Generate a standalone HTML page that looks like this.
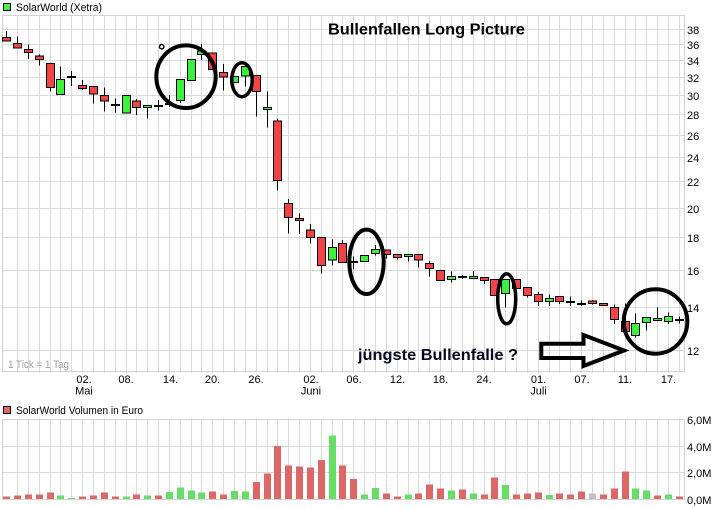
<!DOCTYPE html>
<html><head><meta charset="utf-8"><style>
html,body{margin:0;padding:0;background:#fff;width:726px;height:508px;overflow:hidden}
svg{display:block}
text{font-family:"Liberation Sans",sans-serif}
</style></head><body>
<svg width="726" height="508" viewBox="0 0 726 508" xmlns="http://www.w3.org/2000/svg">
<rect width="726" height="508" fill="#fff"/>
<g stroke="#dadada" stroke-width="1" fill="none" shape-rendering="crispEdges">
<path d="M17.5 15V373M28.5 15V373M39.5 15V373M50.5 15V373M60.5 15V373M71.5 15V373M82.5 15V373M93.5 15V373M104.5 15V373M115.5 15V373M126.5 15V373M136.5 15V373M147.5 15V373M158.5 15V373M169.5 15V373M180.5 15V373M191.5 15V373M201.5 15V373M212.5 15V373M223.5 15V373M234.5 15V373M245.5 15V373M256.5 15V373M267.5 15V373M277.5 15V373M288.5 15V373M299.5 15V373M310.5 15V373M321.5 15V373M332.5 15V373M342.5 15V373M353.5 15V373M364.5 15V373M375.5 15V373M386.5 15V373M397.5 15V373M408.5 15V373M418.5 15V373M429.5 15V373M440.5 15V373M451.5 15V373M462.5 15V373M473.5 15V373M484.5 15V373M494.5 15V373M505.5 15V373M516.5 15V373M527.5 15V373M538.5 15V373M549.5 15V373M559.5 15V373M570.5 15V373M581.5 15V373M592.5 15V373M603.5 15V373M614.5 15V373M625.5 15V373M635.5 15V373M646.5 15V373M657.5 15V373M668.5 15V373M679.5 15V373"/>
<path d="M2 29.5H685M2 44.5H685M2 60.5H685M2 77.5H685M2 95.5H685M2 114.5H685M2 135.5H685M2 157.5H685M2 181.5H685M2 208.5H685M2 237.5H685M2 270.5H685M2 307.5H685M2 350.5H685"/>
<rect x="2.5" y="15.5" width="682" height="356" stroke="#d2d2d2"/>
</g>
<g stroke="#dadada" stroke-width="1" fill="none" shape-rendering="crispEdges">
<path d="M17.5 419V499M28.5 419V499M39.5 419V499M50.5 419V499M60.5 419V499M71.5 419V499M82.5 419V499M93.5 419V499M104.5 419V499M115.5 419V499M126.5 419V499M136.5 419V499M147.5 419V499M158.5 419V499M169.5 419V499M180.5 419V499M191.5 419V499M201.5 419V499M212.5 419V499M223.5 419V499M234.5 419V499M245.5 419V499M256.5 419V499M267.5 419V499M277.5 419V499M288.5 419V499M299.5 419V499M310.5 419V499M321.5 419V499M332.5 419V499M342.5 419V499M353.5 419V499M364.5 419V499M375.5 419V499M386.5 419V499M397.5 419V499M408.5 419V499M418.5 419V499M429.5 419V499M440.5 419V499M451.5 419V499M462.5 419V499M473.5 419V499M484.5 419V499M494.5 419V499M505.5 419V499M516.5 419V499M527.5 419V499M538.5 419V499M549.5 419V499M559.5 419V499M570.5 419V499M581.5 419V499M592.5 419V499M603.5 419V499M614.5 419V499M625.5 419V499M635.5 419V499M646.5 419V499M657.5 419V499M668.5 419V499M679.5 419V499"/>
<path d="M2 446.5H685M2 472.5H685"/>
<rect x="2.5" y="419.5" width="682" height="80" stroke="#d2d2d2"/>
</g>
<g stroke="#000" stroke-width="1" fill="none" shape-rendering="crispEdges">
<path d="M6.5 31V41M17.5 36.5V48M28.5 44.5V59M39.5 54.5V65.5M50.5 63.5V91.5M60.5 66.5V94.5M71.5 71V86M82.5 80V90M93.5 86.5V103.5M104.5 87.5V111.5M115.5 98.5V112.5M136.5 99V115M147.5 105.5V118.5M158.5 100V110.5M169.5 95V107M180.5 79.5V103M201.5 44V60M223.5 64V90.5M245.5 66.5V86.5M256.5 75.5V116.5M267.5 91.5V127.5M277.5 118.5V190.5M288.5 199V233.5M299.5 213.5V234M310.5 224V243.5M321.5 237.5V273.5M332.5 239.5V265.5M342.5 240V262.5M353.5 256.5V269.5M375.5 245V255.5M386.5 250V258.5M397.5 254.5V259.5M408.5 254.5V261.5M418.5 254.5V267.5M429.5 261V276.5M451.5 271.5V282.5M462.5 275V279M473.5 271V279M484.5 277.5V284M505.5 279.5V307.5M527.5 287.5V297.5M538.5 292V306M549.5 294.5V306M559.5 296.5V304M570.5 296.5V306M581.5 300.5V306M592.5 300V304.5M614.5 304.5V324M625.5 303.5V331.5M635.5 313.5V337.5M646.5 317.5V330.5M657.5 307.5V320.5M668.5 312.5V324M679.5 316.5V323.5"/>
</g>
<g stroke="#000" stroke-width="2" fill="none" shape-rendering="crispEdges">
<path d="M67 77H76M111 105H120M154 106H163M165 104H174M349 262H358M458 277H467M566 302H575M577 304H586M675 320H684"/>
</g>
<g fill="#f24444" stroke="#000" stroke-width="1" shape-rendering="crispEdges">
<rect x="2.5" y="37.5" width="8" height="3.5"/>
<rect x="13.5" y="43.5" width="8" height="4.5"/>
<rect x="24.5" y="49.5" width="8" height="3"/>
<rect x="35.5" y="56" width="8" height="3.5"/>
<rect x="46.5" y="63.5" width="8" height="24"/>
<rect x="78.5" y="85.5" width="8" height="3"/>
<rect x="89.5" y="86.5" width="8" height="7.5"/>
<rect x="100.5" y="95.5" width="8" height="5.5"/>
<rect x="132.5" y="101" width="8" height="6.5"/>
<rect x="208.5" y="53" width="8" height="16.5"/>
<rect x="219.5" y="72.5" width="8" height="4.5"/>
<rect x="252.5" y="75.5" width="8" height="16"/>
<rect x="273.5" y="121" width="8" height="59.5"/>
<rect x="284.5" y="203.5" width="8" height="14"/>
<rect x="295.5" y="218.5" width="8" height="2"/>
<rect x="306.5" y="230" width="8" height="7.5"/>
<rect x="317.5" y="237.5" width="8" height="28"/>
<rect x="338.5" y="243.5" width="8" height="19"/>
<rect x="382.5" y="250" width="8" height="4.5"/>
<rect x="393.5" y="254.5" width="8" height="3"/>
<rect x="414.5" y="254.5" width="8" height="5.5"/>
<rect x="425.5" y="263.5" width="8" height="5"/>
<rect x="436.5" y="270.5" width="8" height="10"/>
<rect x="480.5" y="277.5" width="8" height="3"/>
<rect x="490.5" y="279.5" width="8" height="16"/>
<rect x="512.5" y="279.5" width="8" height="9"/>
<rect x="523.5" y="287.5" width="8" height="8"/>
<rect x="534.5" y="294.5" width="8" height="7"/>
<rect x="555.5" y="296.5" width="8" height="5"/>
<rect x="588.5" y="301" width="8" height="2.5"/>
<rect x="599.5" y="303.5" width="8" height="2"/>
<rect x="610.5" y="307.5" width="8" height="12"/>
<rect x="621.5" y="321.5" width="8" height="10"/>
</g>
<g fill="#3ef03e" stroke="#000" stroke-width="1" shape-rendering="crispEdges">
<rect x="56.5" y="79.5" width="8" height="15"/>
<rect x="122.5" y="95.5" width="8" height="17.5"/>
<rect x="143.5" y="105.5" width="8" height="2"/>
<rect x="176.5" y="79.5" width="8" height="21"/>
<rect x="187.5" y="59.5" width="8" height="21"/>
<rect x="197.5" y="51" width="8" height="3.5"/>
<rect x="230.5" y="76.5" width="8" height="6"/>
<rect x="241.5" y="66.5" width="8" height="9.5"/>
<rect x="263.5" y="107.5" width="8" height="2"/>
<rect x="328.5" y="247.5" width="8" height="12.5"/>
<rect x="360.5" y="255.5" width="8" height="6"/>
<rect x="371.5" y="249.5" width="8" height="4"/>
<rect x="404.5" y="254.5" width="8" height="2"/>
<rect x="447.5" y="276.5" width="8" height="3"/>
<rect x="469.5" y="276.5" width="8" height="2"/>
<rect x="501.5" y="279.5" width="8" height="14"/>
<rect x="545.5" y="298.5" width="8" height="3"/>
<rect x="631.5" y="323.5" width="8" height="12"/>
<rect x="642.5" y="317.5" width="8" height="5"/>
<rect x="653.5" y="318.5" width="8" height="2"/>
<rect x="664.5" y="316.5" width="8" height="5"/>
</g>
<g shape-rendering="crispEdges">
<g fill="#dd6666">
<rect x="3" y="496.7" width="7" height="2.3"/>
<rect x="14" y="495.7" width="7" height="3.3"/>
<rect x="25" y="494.7" width="7" height="4.3"/>
<rect x="36" y="494.7" width="7" height="4.3"/>
<rect x="47" y="492.7" width="7" height="6.3"/>
<rect x="79" y="496.7" width="7" height="2.3"/>
<rect x="90" y="495.7" width="7" height="3.3"/>
<rect x="101" y="492.7" width="7" height="6.3"/>
<rect x="112" y="496.7" width="7" height="2.3"/>
<rect x="133" y="494.7" width="7" height="4.3"/>
<rect x="155" y="495.7" width="7" height="3.3"/>
<rect x="209" y="491.7" width="7" height="7.3"/>
<rect x="220" y="494.7" width="7" height="4.3"/>
<rect x="253" y="482" width="7" height="17"/>
<rect x="264" y="473.7" width="7" height="25.3"/>
<rect x="274" y="446" width="7" height="53"/>
<rect x="285" y="465.7" width="7" height="33.3"/>
<rect x="296" y="466.7" width="7" height="32.3"/>
<rect x="307" y="467.7" width="7" height="31.3"/>
<rect x="318" y="460" width="7" height="39"/>
<rect x="339" y="465.7" width="7" height="33.3"/>
<rect x="350" y="479" width="7" height="20"/>
<rect x="383" y="493.7" width="7" height="5.3"/>
<rect x="394" y="496.7" width="7" height="2.3"/>
<rect x="415" y="493.7" width="7" height="5.3"/>
<rect x="426" y="484.7" width="7" height="14.3"/>
<rect x="437" y="488.7" width="7" height="10.3"/>
<rect x="459" y="489.7" width="7" height="9.3"/>
<rect x="481" y="494.7" width="7" height="4.3"/>
<rect x="491" y="477.7" width="7" height="21.3"/>
<rect x="513" y="494.7" width="7" height="4.3"/>
<rect x="524" y="493.7" width="7" height="5.3"/>
<rect x="535" y="492.7" width="7" height="6.3"/>
<rect x="556" y="493.7" width="7" height="5.3"/>
<rect x="567" y="494.7" width="7" height="4.3"/>
<rect x="578" y="491.7" width="7" height="7.3"/>
<rect x="600" y="494.7" width="7" height="4.3"/>
<rect x="611" y="488.7" width="7" height="10.3"/>
<rect x="622" y="471.7" width="7" height="27.3"/>
<rect x="654" y="495.7" width="7" height="3.3"/>
<rect x="676" y="496.7" width="7" height="2.3"/>
</g>
<g fill="#66dd66">
<rect x="57" y="495.7" width="7" height="3.3"/>
<rect x="68" y="498" width="7" height="1"/>
<rect x="123" y="496.7" width="7" height="2.3"/>
<rect x="144" y="495.7" width="7" height="3.3"/>
<rect x="166" y="492" width="7" height="7"/>
<rect x="177" y="487.7" width="7" height="11.3"/>
<rect x="188" y="490.7" width="7" height="8.3"/>
<rect x="198" y="492.7" width="7" height="6.3"/>
<rect x="231" y="491" width="7" height="8"/>
<rect x="242" y="491.7" width="7" height="7.3"/>
<rect x="329" y="435.7" width="7" height="63.3"/>
<rect x="361" y="494.7" width="7" height="4.3"/>
<rect x="372" y="488" width="7" height="11"/>
<rect x="405" y="494.7" width="7" height="4.3"/>
<rect x="448" y="490.7" width="7" height="8.3"/>
<rect x="470" y="493.7" width="7" height="5.3"/>
<rect x="502" y="485" width="7" height="14"/>
<rect x="546" y="495" width="7" height="4"/>
<rect x="632" y="488.7" width="7" height="10.3"/>
<rect x="643" y="490.7" width="7" height="8.3"/>
<rect x="665" y="494.7" width="7" height="4.3"/>
</g>
<rect x="589" y="493.7" width="7" height="5.3" fill="#c0c0c0"/>
</g>
<path d="M2 499.5H685" stroke="#d2d2d2" stroke-width="1" shape-rendering="crispEdges"/>
<g fill="none" stroke="#000">
<ellipse cx="186" cy="76.7" rx="29.7" ry="31.3" stroke-width="4"/>
<circle cx="161.7" cy="46.7" r="2.2" stroke-width="1.5"/>
<ellipse cx="242" cy="79.7" rx="10.2" ry="17" stroke-width="3.5"/>
<ellipse cx="366.5" cy="261.8" rx="17.2" ry="32.2" stroke-width="4"/>
<ellipse cx="506.7" cy="298.8" rx="9" ry="25" stroke-width="3.5"/>
<ellipse cx="655.5" cy="321.5" rx="31.8" ry="32.2" stroke-width="4"/>
<polygon points="541.3,343.7 583.5,343.7 583.5,335 624,350.5 583.5,366 583.5,358 541.3,358" stroke-width="4" stroke-linejoin="miter"/>
</g>
<rect x="3.5" y="3.5" width="7" height="7" fill="#44ee44" stroke="#000" stroke-width="1" shape-rendering="crispEdges"/>
<text x="16" y="11" font-size="11" fill="#000" textLength="86" lengthAdjust="spacingAndGlyphs">SolarWorld (Xetra)</text>
<rect x="3.5" y="406.5" width="7" height="7" fill="#dd6666" stroke="#000" stroke-width="1" shape-rendering="crispEdges"/>
<text x="16" y="414" font-size="11" fill="#000" textLength="127" lengthAdjust="spacingAndGlyphs">SolarWorld Volumen in Euro</text>
<text x="8" y="368" font-size="11" fill="#a0a0a0" textLength="61" lengthAdjust="spacingAndGlyphs">1 Tick = 1 Tag</text>
<g font-size="11" fill="#000">
<text x="687" y="34">38</text>
<text x="687" y="49">36</text>
<text x="687" y="65">34</text>
<text x="687" y="82">32</text>
<text x="687" y="100">30</text>
<text x="687" y="119">28</text>
<text x="687" y="140">26</text>
<text x="687" y="162">24</text>
<text x="687" y="186">22</text>
<text x="687" y="213">20</text>
<text x="687" y="242">18</text>
<text x="687" y="275">16</text>
<text x="687" y="312">14</text>
<text x="687" y="355">12</text>
<text x="687" y="424">6,0M</text>
<text x="687" y="451">4,0M</text>
<text x="687" y="477">2,0M</text>
<text x="687" y="504">0,0M</text>
</g>
<g font-size="11" fill="#000" text-anchor="middle">
<text x="84" y="383">02.</text>
<text x="84" y="394.5">Mai</text>
<text x="126" y="383">08.</text>
<text x="170.5" y="383">14.</text>
<text x="212.5" y="383">20.</text>
<text x="256" y="383">26.</text>
<text x="311" y="383">02.</text>
<text x="311" y="394.5">Juni</text>
<text x="354" y="383">06.</text>
<text x="397.5" y="383">12.</text>
<text x="440.5" y="383">18.</text>
<text x="484" y="383">24.</text>
<text x="538.5" y="383">01.</text>
<text x="538.5" y="394.5">Juli</text>
<text x="582" y="383">07.</text>
<text x="625" y="383">11.</text>
<text x="668.5" y="383">17.</text>
</g>
<text x="328" y="34.7" font-size="16" font-weight="bold" fill="#000" textLength="197" lengthAdjust="spacingAndGlyphs">Bullenfallen Long Picture</text>
<text x="358" y="360" font-size="16" font-weight="bold" fill="#050520" textLength="160" lengthAdjust="spacingAndGlyphs">jüngste Bullenfalle ?</text>
</svg>
</body></html>
